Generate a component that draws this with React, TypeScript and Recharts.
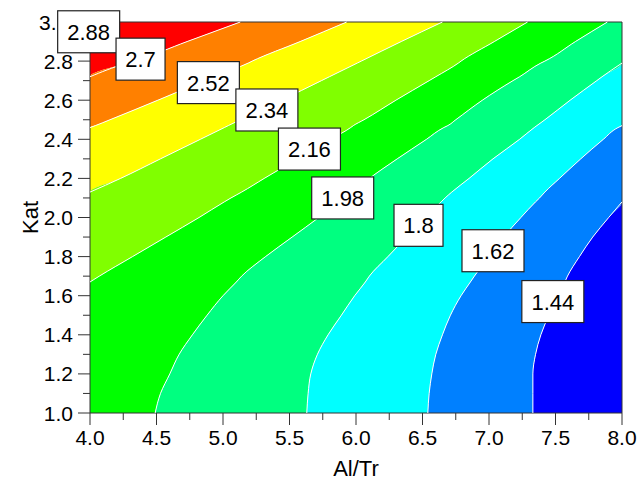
import React from 'react';
import { Area, ComposedChart, Line, ReferenceArea, ReferenceDot, XAxis, YAxis } from 'recharts';

// Kat values (rows), with extra rows where a contour meets the plot edge
const kat = [1.0, 1.1, 1.2, 1.3, 1.4, 1.5, 1.6, 1.67, 1.7, 1.8, 1.9, 2.0, 2.08, 2.1, 2.13, 2.2, 2.3, 2.4, 2.46, 2.47, 2.5, 2.6, 2.7, 2.72, 2.79, 2.8, 2.9, 3.0];

// Al/Tr position of each contour line at every Kat row (4 / 8 = at the plot edge)
const c270 = [4, 4, 4, 4, 4, 4, 4, 4, 4, 4, 4, 4, 4, 4, 4, 4, 4, 4, 4, 4, 4, 4, 4, 4, 4.28, 4.33, 4.73, 5.13];
const c252 = [4, 4, 4, 4, 4, 4, 4, 4, 4, 4, 4, 4, 4, 4, 4, 4, 4, 4, 4, 4.04, 4.15, 4.51, 4.86, 4.93, 5.19, 5.22, 5.58, 5.93];
const c234 = [4, 4, 4, 4, 4, 4, 4, 4, 4, 4, 4, 4, 4, 4, 4, 4.23, 4.53, 4.83, 5.01, 5.04, 5.13, 5.44, 5.74, 5.8, 6.01, 6.04, 6.34, 6.65];
const c216 = [4, 4, 4, 4, 4, 4, 4, 4, 4.07, 4.32, 4.57, 4.82, 5.01, 5.06, 5.14, 5.31, 5.56, 5.81, 5.96, 5.98, 6.06, 6.3, 6.55, 6.6, 6.77, 6.79, 7.04, 7.29];
const c198 = [4.49, 4.53, 4.6, 4.67, 4.77, 4.88, 5.0, 5.1, 5.14, 5.32, 5.52, 5.72, 5.87, 5.91, 5.97, 6.1, 6.31, 6.53, 6.66, 6.69, 6.75, 6.95, 7.18, 7.23, 7.39, 7.42, 7.65, 7.89];
const c180 = [5.63, 5.64, 5.66, 5.71, 5.79, 5.89, 5.99, 6.07, 6.1, 6.24, 6.38, 6.52, 6.64, 6.67, 6.72, 6.85, 7.03, 7.23, 7.34, 7.36, 7.42, 7.61, 7.81, 7.85, 8, 8, 8, 8];
const c162 = [6.54, 6.55, 6.57, 6.6, 6.65, 6.71, 6.79, 6.86, 6.89, 7.0, 7.11, 7.24, 7.35, 7.38, 7.42, 7.53, 7.69, 7.86, 7.97, 8, 8, 8, 8, 8, 8, 8, 8, 8];
const c144 = [7.33, 7.33, 7.33, 7.35, 7.39, 7.45, 7.52, 7.57, 7.59, 7.68, 7.78, 7.9, 8, 8, 8, 8, 8, 8, 8, 8, 8, 8, 8, 8, 8, 8, 8, 8];

const bandColors = ['#ff0000', '#ff8000', '#ffff00', '#80ff00', '#00ff00', '#00ff80', '#00ffff', '#0080ff', '#0000ff'];

// contour labels
const labelText = ['2.88', '2.7', '2.52', '2.34', '2.16', '1.98', '1.8', '1.62', '1.44'];
const labelAlTr = [3.99, 4.38, 4.89, 5.33, 5.65, 5.9, 6.47, 7.03, 7.48];
const labelKat = [2.95, 2.81, 2.69, 2.55, 2.35, 2.1, 1.96, 1.83, 1.57];

const xTicks = [4, 4.25, 4.5, 4.75, 5, 5.25, 5.5, 5.75, 6, 6.25, 6.5, 6.75, 7, 7.25, 7.5, 7.75, 8];
const yTicks = [1.0, 1.1, 1.2, 1.3, 1.4, 1.5, 1.6, 1.7, 1.8, 1.9, 2.0, 2.1, 2.2, 2.3, 2.4, 2.5, 2.6, 2.7, 2.8, 2.9, 3.0];
// the top of the axis is hidden behind the 2.88 box in the original
const yTickText = (v: number) => (v === 3 ? '3.' : v.toFixed(1));
const hiddenTick = (v: number) => v > 2.85;

const contours = [c270, c252, c234, c216, c198, c180, c162, c144];
const atEdge = (v: number | undefined) => v === undefined || v <= 4 || v >= 8;

const rows = kat.map((k, i) => {
  const row: Record<string, any> = { kat: k };
  const edges = [4, ...contours.map((c) => c[i]), 8];
  bandColors.forEach((_, b) => {
    row[`band${b}`] = [edges[b], edges[b + 1]];
  });
  contours.forEach((c, j) => {
    const v = c[i];
    row[`line${j}`] = atEdge(v) && atEdge(c[i - 1]) && atEdge(c[i + 1]) ? null : v;
  });
  return row;
});

const FONT = '"Liberation Sans", Arial, sans-serif';
const AXIS = '#333';

const XTick = (props: any) => {
  const { x, y, payload } = props;
  const v = payload.value as number;
  const major = Math.abs(v * 2 - Math.round(v * 2)) < 1e-6;
  return (
    <g>
      <line x1={x} x2={x} y1={y} y2={y + (major ? 12 : 7)} stroke={AXIS} />
      {major && (
        <text x={x} y={y + 32} textAnchor="middle" fontSize={21} fill="#000" fontFamily={FONT}>
          {v.toFixed(1)}
        </text>
      )}
    </g>
  );
};

const YTick = (props: any) => {
  const { x, y, payload } = props;
  const v = payload.value as number;
  const major = Math.abs(v * 5 - Math.round(v * 5)) < 1e-6;
  return (
    <g>
      {!hiddenTick(v) && <line x1={x - (major ? 12 : 7)} x2={x} y1={y} y2={y} stroke={AXIS} />}
      {major && (
        <text x={v === 3 ? 39 : x - 17} y={y + 7.5} textAnchor={v === 3 ? 'start' : 'end'} fontSize={21} fill="#000" fontFamily={FONT}>
          {yTickText(v)}
        </text>
      )}
    </g>
  );
};

const labelBox = (text: string) => (props: any) => {
  const { cx, cy } = props;
  const w = 10 + 13 * text.length;
  return (
    <g>
      <rect x={cx - w / 2} y={cy - 21} width={w} height={42} fill="#fff" stroke="#222" strokeWidth={1.2} />
      <text x={cx} y={cy + 8} textAnchor="middle" fontSize={22} fill="#000" fontFamily={FONT}>
        {text}
      </text>
    </g>
  );
};

export default function App() {
  return (
    <div style={{ position: 'absolute', left: 0, top: 0, fontFamily: FONT }}>
      <ComposedChart
        width={640}
        height={493}
        data={rows}
        layout="vertical"
        margin={{ top: 22, right: 18, left: 0, bottom: 0 }}
      >
        <XAxis
          type="number"
          domain={[4, 8]}
          ticks={xTicks}
          interval={0}
          tick={<XTick />}
          tickLine={false}
          axisLine={false}
          tickSize={0}
          tickMargin={0}
          height={80}
          label={{ value: 'Al/Tr', position: 'center', dy: 15, fontSize: 22, fill: '#000', fontFamily: FONT }}
        />
        <YAxis
          type="number"
          dataKey="kat"
          domain={[1, 3]}
          reversed
          ticks={yTicks}
          interval={0}
          tick={<YTick />}
          tickLine={false}
          axisLine={false}
          tickSize={0}
          tickMargin={0}
          width={90}
          label={{ value: 'Kat', angle: -90, position: 'center', dx: -15, fontSize: 22, fill: '#000', fontFamily: FONT }}
        />
        {bandColors.map((color, b) => (
          <Area
            key={`band${b}`}
            dataKey={`band${b}`}
            type="monotone"
            fill={color}
            fillOpacity={1}
            stroke="none"
            dot={false}
            activeDot={false}
            isAnimationActive={false}
          />
        ))}
        {contours.map((_, j) => (
          <Line
            key={`line${j}`}
            dataKey={`line${j}`}
            type="monotone"
            stroke="#fff"
            strokeWidth={1}
            dot={false}
            activeDot={false}
            isAnimationActive={false}
          />
        ))}
        <ReferenceArea x1={4} x2={8} y1={1} y2={3} fill="none" stroke={AXIS} strokeWidth={1} ifOverflow="visible" />
        {labelText.map((t, i) => (
          <ReferenceDot key={t} x={labelAlTr[i]} y={labelKat[i]} r={1} ifOverflow="visible" shape={labelBox(t)} />
        ))}
      </ComposedChart>
    </div>
  );
}
